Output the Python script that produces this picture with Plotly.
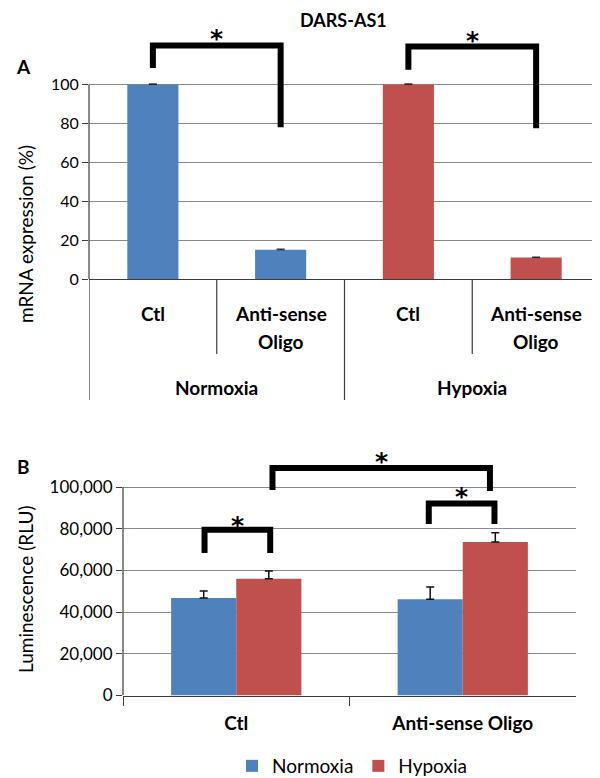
import plotly.graph_objects as go

# ---------------- data ----------------
title_text = "DARS-AS1"
conditions = ["Normoxia", "Hypoxia"]
a_labels = ["Ctl", "Anti-sense<br>Oligo", "Ctl", "Anti-sense<br>Oligo"]
a_group = ["Normoxia", "Normoxia", "Hypoxia", "Hypoxia"]
a_values = [100, 15, 100, 11]
a_errors = [0.3, 0.4, 0.3, 0.3]

b_categories = ["Ctl", "Anti-sense Oligo"]
b_normoxia = [46800, 46200]
b_normoxia_err = [3300, 5800]
b_hypoxia = [56000, 73600]
b_hypoxia_err = [3700, 4400]

a_ticks = [0, 20, 40, 60, 80, 100]
b_ticks = [0, 20000, 40000, 60000, 80000, 100000]

BLUE = "#4F81BD"
RED = "#C0504D"
GRID = "#8a8a8a"
AX = "#3c3c3c"
FONT = "Lato"
STAR_FONT = "DejaVu Sans"

# the page body has an 8px margin; the figure is sized so that page pixels map 1:1
OFF = 8
W, H = 600 - OFF, 778 - OFF


def py(p):
    """page pixel row -> paper y"""
    return 1 - (p - OFF) / H


def px(p):
    """page pixel column -> paper x"""
    return (p - OFF) / W


fig = go.Figure()

# ---------------- panel A ----------------
a_x = list(range(len(a_values)))
a_colors = [BLUE if g == "Normoxia" else RED for g in a_group]
fig.add_trace(go.Bar(
    x=a_x, y=a_values, xaxis="x", yaxis="y",
    marker=dict(color=a_colors, line=dict(width=0)),
    width=0.4, offset=-0.2, showlegend=False,
    error_y=dict(type="data", array=a_errors, arrayminus=[0] * 4,
                 symmetric=False, color="#222", thickness=1, width=4),
))

# ---------------- panel B ----------------
bw = 0.2875
fig.add_trace(go.Bar(
    x=b_categories, y=b_normoxia, name="Normoxia", xaxis="x2", yaxis="y2",
    marker=dict(color=BLUE, line=dict(width=0)), width=bw, offset=-bw,
    error_y=dict(type="data", array=b_normoxia_err, arrayminus=[0, 0],
                 symmetric=False, color="#111", thickness=1.5, width=4),
))
fig.add_trace(go.Bar(
    x=b_categories, y=b_hypoxia, name="Hypoxia", xaxis="x2", yaxis="y2",
    marker=dict(color=RED, line=dict(width=0)), width=bw, offset=0,
    error_y=dict(type="data", array=b_hypoxia_err, arrayminus=[0, 0],
                 symmetric=False, color="#111", thickness=1.5, width=4),
))

shapes = []
annotations = []

# significance brackets: (xref, yref, x_left, x_right, y_top, y_left_end, y_right_end, star_y)
brackets = [
    ("x", "y", 0.0, 1.0, 120, 108.5, 78, 126.5),
    ("x", "y", 2.0, 3.0, 119.5, 107.5, 77.5, 125.5),
    ("x2", "y2", -0.14, 0.15, 79500, 68300, 68300, 84300),
    ("x2", "y2", 0.16, 1.12, 109100, 98600, 98100, 115300),
    ("x2", "y2", 0.85, 1.14, 92100, 82300, 82300, 98200),
]
for xr, yr, x0, x1, yt, yl, yrr, sy in brackets:
    shapes.append(dict(
        type="path", xref=xr, yref=yr,
        path=f"M {x0},{yl} L {x0},{yt} L {x1},{yt} L {x1},{yrr}",
        line=dict(color="black", width=6),
    ))
    annotations.append(dict(
        xref=xr, yref=yr, x=(x0 + x1) / 2, y=sy, text="*", showarrow=False,
        font=dict(family=STAR_FONT, size=25, color="black", weight="bold"),
        yanchor="middle", xanchor="center", yshift=-6,
    ))

# y axis lines (only over the tick range)
shapes.append(dict(type="line", xref="x domain", yref="y", x0=0, x1=0, y0=0, y1=100,
                   line=dict(color=AX, width=1.2)))
shapes.append(dict(type="line", xref="x2 domain", yref="y2", x0=0, x1=0, y0=0, y1=100000,
                   line=dict(color=AX, width=1.2)))

# panel A category dividers
for xb in [0.5, 2.5]:
    shapes.append(dict(type="line", xref="x", yref="paper", x0=xb, x1=xb,
                       y0=py(279), y1=py(354), line=dict(color=AX, width=1.2)))
for xb in [-0.5, 1.5, 3.5]:
    shapes.append(dict(type="line", xref="x", yref="paper", x0=xb, x1=xb,
                       y0=py(279), y1=py(400), line=dict(color=AX, width=1.2)))

# panel A category labels
for i, lab in enumerate(a_labels):
    for j, line in enumerate(lab.split("<br>")):
        annotations.append(dict(
            xref="x", yref="paper", x=i, y=py(313 + 28 * j), text=line,
            showarrow=False, xanchor="center", yanchor="middle",
            font=dict(family=FONT, size=19, color="black", weight="bold"),
        ))
for g, xc in zip(conditions, [0.5, 2.5]):
    annotations.append(dict(
        xref="x", yref="paper", x=xc, y=py(387), text=g, showarrow=False,
        xanchor="center", yanchor="middle",
        font=dict(family=FONT, size=19, color="black", weight="bold"),
    ))

# titles / panel letters / axis titles
annotations += [
    dict(xref="paper", yref="paper", x=px(343), y=py(20), text=title_text, showarrow=False,
         xanchor="center", yanchor="middle",
         font=dict(family=FONT, size=18, color="black", weight="bold")),
    dict(xref="paper", yref="paper", x=px(23), y=py(66), text="A", showarrow=False,
         xanchor="center", yanchor="middle",
         font=dict(family=FONT, size=19, color="black", weight="bold")),
    dict(xref="paper", yref="paper", x=px(23), y=py(466), text="B", showarrow=False,
         xanchor="center", yanchor="middle",
         font=dict(family=FONT, size=19, color="black", weight="bold")),
    dict(xref="paper", yref="paper", x=px(25), y=py(234), text="mRNA expression (%)",
         showarrow=False, textangle=-90, xanchor="center", yanchor="middle",
         font=dict(family=FONT, size=19, color="black")),
    dict(xref="paper", yref="paper", x=px(25), y=py(590), text="Luminescence (RLU)",
         showarrow=False, textangle=-90, xanchor="center", yanchor="middle",
         font=dict(family=FONT, size=19, color="black")),
]

fig.update_layout(
    width=W, height=H,
    margin=dict(l=0, r=0, t=0, b=0, autoexpand=False),
    paper_bgcolor="white", plot_bgcolor="white",
    font=dict(family=FONT, color="black"),
    barmode="group",
    shapes=shapes, annotations=annotations,
    xaxis=dict(domain=[px(89), 1.0], range=[-0.5, 3.5], showticklabels=False,
               ticks="", showgrid=False, zeroline=False, showline=True,
               linecolor=AX, linewidth=1.2, anchor="y", automargin=False),
    yaxis=dict(domain=[py(279), py(26.1)], range=[0, 130], tickvals=a_ticks,
               ticks="outside", ticklen=6, tickcolor=AX, tickwidth=1.2,
               showgrid=True, gridcolor=GRID, gridwidth=1, zeroline=False,
               showline=False, tickfont=dict(family=FONT, size=16, color="black"),
               anchor="x", automargin=False),
    xaxis2=dict(domain=[px(123), px(576)], type="category", tickson="boundaries",
                ticks="outside", ticklen=9, tickcolor=AX, tickwidth=1.2,
                showline=True, linecolor=AX, linewidth=1.2, showgrid=False,
                zeroline=False, anchor="y2", ticklabelstandoff=11, automargin=False,
                tickfont=dict(family=FONT, size=19, color="black", weight="bold")),
    yaxis2=dict(domain=[py(695.5), py(445.3)], range=[0, 120000], tickvals=b_ticks,
                tickformat=",", ticks="outside", ticklen=6, tickcolor=AX, tickwidth=1.2,
                showgrid=True, gridcolor=GRID, gridwidth=1, zeroline=False,
                showline=False, tickfont=dict(family=FONT, size=17, color="black"),
                anchor="x2", automargin=False),
    legend=dict(orientation="h", x=px(352), xanchor="center", y=py(766),
                yanchor="middle", font=dict(family=FONT, size=19, color="black"),
                traceorder="normal"),
)

fig.write_html("out.html")
